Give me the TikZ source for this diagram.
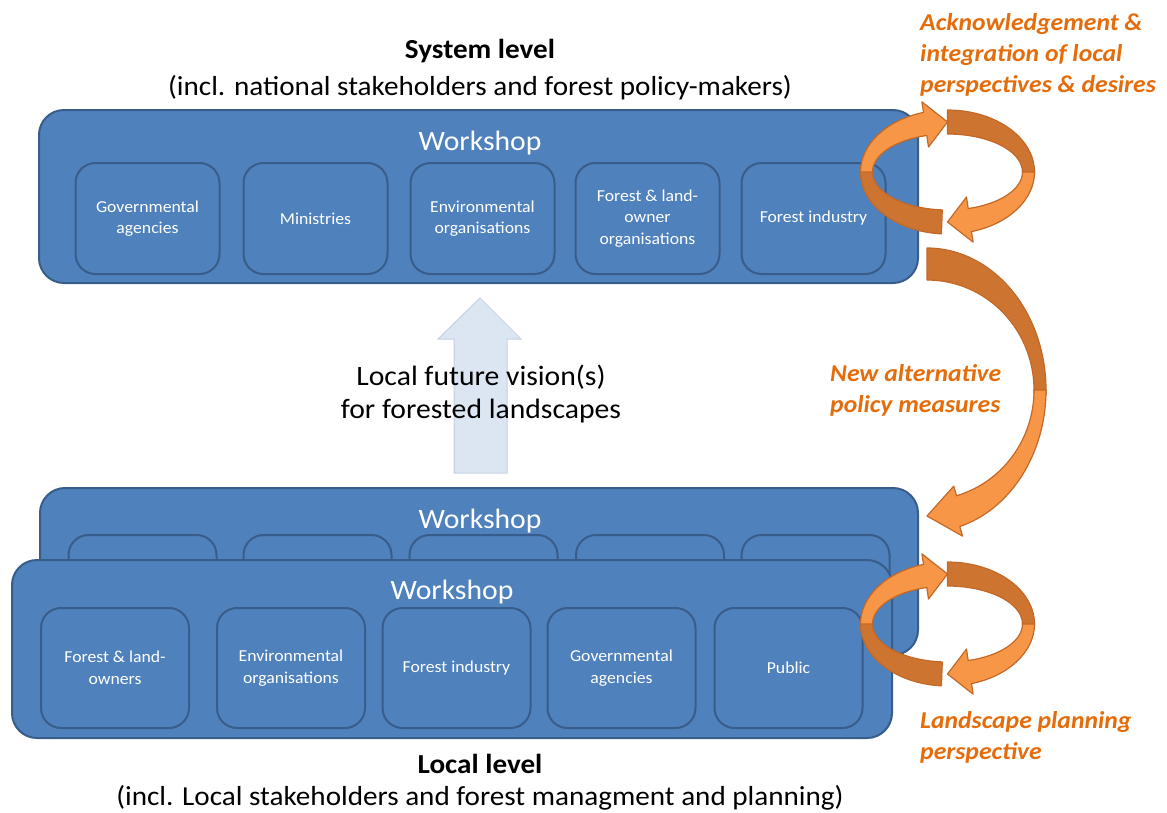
\documentclass[tikz,border=0pt]{standalone}
\usepackage{fontspec}
\setmainfont{Carlito}[FakeStretch=1.06]
\definecolor{boxfill}{RGB}{79,129,189}
\definecolor{boxline}{RGB}{56,93,138}
\definecolor{ordark}{RGB}{205,116,48}
\definecolor{orlight}{RGB}{247,150,70}
\definecolor{oredge}{RGB}{196,104,40}
\definecolor{ortext}{RGB}{228,108,10}
\definecolor{visfill}{RGB}{220,230,242}
\definecolor{visline}{RGB}{196,210,228}
\tikzset{
  bigbox/.style={draw=boxline, line width=2pt, fill=boxfill, rounded corners=25pt, inner sep=0pt},
  memberbox/.style={draw=boxline, line width=2pt, fill=boxfill, rounded corners=20pt, inner sep=0pt,
     text=white, align=center, font=\fontsize{16.7}{21.5}\selectfont},
  wslabel/.style={text=white, font=\fontsize{28}{32}\selectfont, inner sep=0pt},
  titlebold/.style={font=\bfseries\fontsize{27.5}{32}\selectfont, inner sep=0pt},
  titlesub/.style={font=\fontsize{27.5}{32}\selectfont, inner sep=0pt},
  ortxt/.style={text=ortext, font=\bfseries\itshape\fontsize{24.2}{31}\selectfont, align=left, inner sep=0pt},
  darkrib/.style={fill=ordark, draw=oredge, line width=1.2pt, line join=round},
  lightrib/.style={fill=orlight, draw=oredge, line width=1.2pt, line join=round},
  visarrow/.style={fill=visfill, draw=visline, line width=1pt}
}
\begin{document}
\begin{tikzpicture}[x=1pt,y=-1pt]
\useasboundingbox (0,0) rectangle (1167,812);

% ---------- System level ----------
\node[titlebold] (systitle) at (480,51) {System level};
\node[titlesub] (syssub) at (480,88) {(incl. national stakeholders and forest policy-makers)};

\node[bigbox, minimum width=879pt, minimum height=173pt] (sysbox) at (478.5,196.5) {};
\node[wslabel] (sysws) at (480,143) {Workshop};
\node[memberbox, minimum width=144pt, minimum height=111pt] (s1) at (147.5,218.5) {Governmental\\agencies};
\node[memberbox, minimum width=144pt, minimum height=111pt] (s2) at (315.5,218.5) {Ministries};
\node[memberbox, minimum width=144pt, minimum height=111pt] (s3) at (482.5,218.5) {Environmental\\organisations};
\node[memberbox, minimum width=144pt, minimum height=111pt] (s4) at (647.5,218.5) {Forest \& land-\\owner\\organisations};
\node[memberbox, minimum width=144pt, minimum height=111pt] (s5) at (813.5,218.5) {Forest industry};

% ---------- vision arrow ----------
\path[visarrow] (454,473) -- (454,339) -- (438,339) -- (480,298) -- (521,339) -- (507,339) -- (507,473) -- cycle;
\node[font=\fontsize{28}{33}\selectfont, align=center, inner sep=0pt] (vision) at (481,394) {Local future vision(s)\\for forested landscapes};

% ---------- Local level ----------
\node[bigbox, minimum width=878pt, minimum height=167pt] (backbox) at (479,571.5) {};
\node[wslabel] (backws) at (480,521) {Workshop};
\foreach \cx/\nm in {142.5/b1,317.5/b2,483.5/b3,650/b4,815.5/b5}{
  \node[memberbox, minimum width=148pt, minimum height=110pt] (\nm) at (\cx,590) {};
}

\node[bigbox, minimum width=880pt, minimum height=178pt] (frontbox) at (452,649) {};
\node[wslabel] (frontws) at (452,592) {Workshop};
\node[memberbox, minimum width=148pt, minimum height=120pt] (f1) at (115,668) {Forest \& land-\\owners};
\node[memberbox, minimum width=148pt, minimum height=120pt] (f2) at (291,668) {Environmental\\organisations};
\node[memberbox, minimum width=148pt, minimum height=120pt] (f3) at (456.5,668) {Forest industry};
\node[memberbox, minimum width=148pt, minimum height=120pt] (f4) at (621.5,668) {Governmental\\agencies};
\node[memberbox, minimum width=148pt, minimum height=120pt] (f5) at (788.5,668) {Public};

\node[titlebold] (loctitle) at (480,764) {Local level};
\node[titlesub] (locsub) at (480,798) {(incl. Local stakeholders and forest managment and planning)};

% ---------- circular arrows (system level and local level) ----------
\foreach \cy in {172,624}{
\begin{scope}[shift={(947.5,\cy)}]
  \path[darkrib] (270:87 and 62) arc[start angle=270,end angle=362,x radius=87,y radius=62]
     -- (362:75 and 38) arc[start angle=362,end angle=270,x radius=75,y radius=38] -- cycle;
  \path[darkrib] (94:87 and 62) arc[start angle=94,end angle=182,x radius=87,y radius=62]
     -- (182:75 and 38) arc[start angle=182,end angle=94,x radius=75,y radius=38] -- cycle;
  \path[lightrib] (360:87 and 62) arc[start angle=360,end angle=434,x radius=87,y radius=62]
     -- (434:93 and 73) -- (450:81 and 50) -- (434:69 and 26)
     -- (434:75 and 38) arc[start angle=434,end angle=360,x radius=75,y radius=38] -- cycle;
  \path[lightrib] (180:87 and 62) arc[start angle=180,end angle=254,x radius=87,y radius=62]
     -- (254:93 and 73) -- (270:81 and 50) -- (254:69 and 26)
     -- (254:75 and 38) arc[start angle=254,end angle=180,x radius=75,y radius=38] -- cycle;
\end{scope}
}

% ---------- big arrow from system to local ----------
\begin{scope}[shift={(927,390)}]
  \path[darkrib] (270:119 and 142) arc[start angle=270,end angle=362,x radius=119,y radius=142]
     -- (362:107 and 110) arc[start angle=362,end angle=270,x radius=107,y radius=110] -- cycle;
  \path[lightrib] (360:119 and 142) arc[start angle=360,end angle=434,x radius=119,y radius=142]
     -- (434:129 and 152) -- (450:113 and 126) -- (434:97 and 100)
     -- (434:107 and 110) arc[start angle=434,end angle=360,x radius=107,y radius=110] -- cycle;
\end{scope}

% ---------- orange labels ----------
\node[ortxt, anchor=north west] (ack) at (920,13) {Acknowledgement \&\\integration of local\\perspectives \& desires};
\node[ortxt, anchor=north west] (newpol) at (830,364) {New alternative\\policy measures};
\node[ortxt, anchor=north west] (landsc) at (920,711) {Landscape planning\\perspective};
\end{tikzpicture}
\end{document}
